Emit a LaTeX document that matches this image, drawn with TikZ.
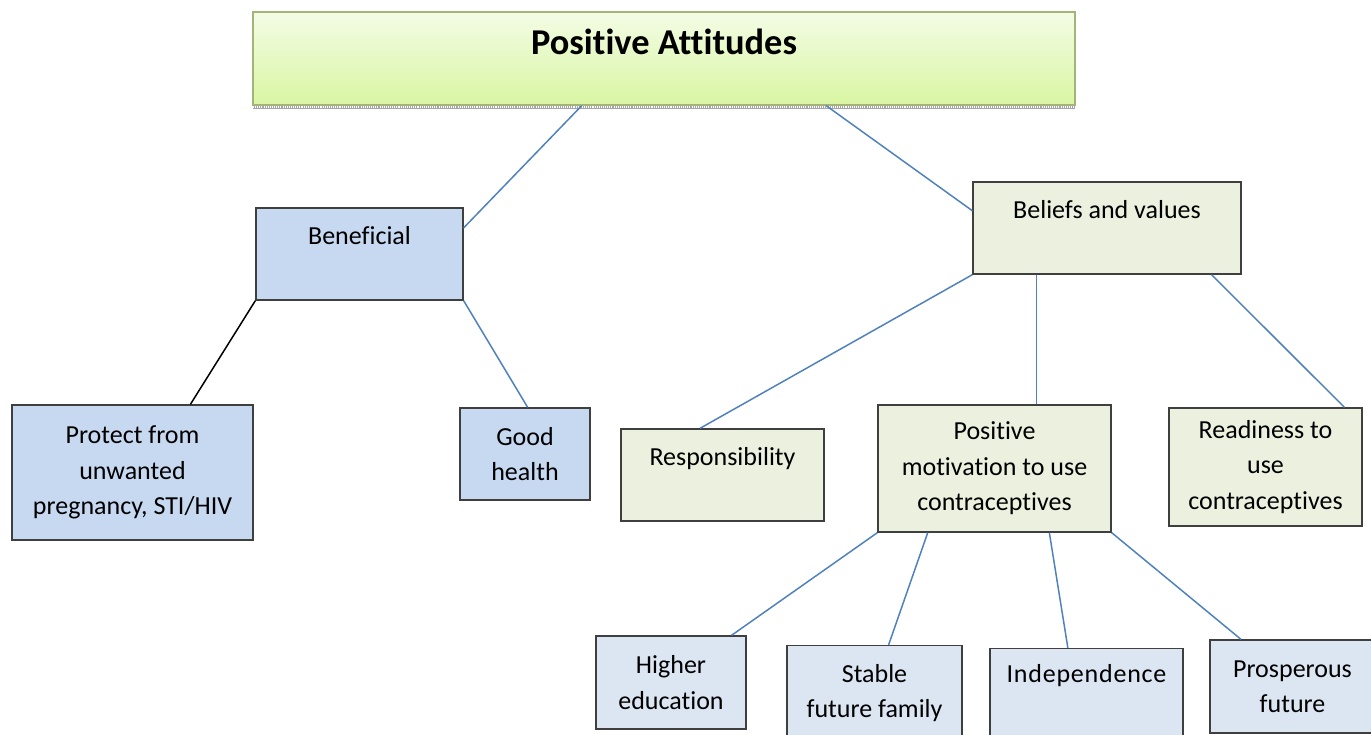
\documentclass[tikz,border=0pt]{standalone}
\usepackage{fontspec}
\setmainfont{Carlito}[Ligatures={NoCommon}]
\usepackage[HTML]{xcolor}
\usepackage{tikz}
\usetikzlibrary{positioning, calc}

\definecolor{linkblue}{HTML}{4F81BD}
\definecolor{boxline}{HTML}{3F3F3F}
\definecolor{benblue}{HTML}{C6D9F1}
\definecolor{paleblue}{HTML}{DCE6F2}
\definecolor{beige}{HTML}{EBF1DE}
\definecolor{limetop}{HTML}{F4FCE6}
\definecolor{limebot}{HTML}{D9F6A2}
\definecolor{limeline}{HTML}{A3B37A}

\newcommand{\boxfont}{\fontsize{14.8}{20.2}\selectfont}

\tikzset{
  box/.style={draw=boxline, line width=0.8pt, rectangle, align=center, inner sep=2pt,
    font=\boxfont},
  benbox/.style={box, fill=benblue},
  futbox/.style={box, fill=paleblue},
  valbox/.style={box, fill=beige},
  toptext/.style={label={[anchor=base, yshift=-0.74cm, inner sep=0pt, font=\boxfont]north:#1}},
  link/.style={draw=linkblue, line width=0.85pt}
}

\begin{document}
\begin{tikzpicture}[x=0.02cm, y=-0.02cm]
\useasboundingbox (0,0) rectangle (1371,734);

% Nodes
\fill[gray!70] (253,105) rectangle (1075,109);
\draw[white, line width=1.2pt, dash pattern=on 0.6pt off 0.6pt] (253,107) -- (1075,107);
\node[draw=limeline, line width=0.8pt, top color=limetop, bottom color=limebot,
  minimum width=16.44cm, minimum height=1.86cm, inner sep=0pt,
  label={[anchor=base, yshift=-0.86cm, inner sep=0pt,
    font=\fontsize{20.7}{24}\selectfont\bfseries]north:Positive Attitudes}] (top) at (664,58.5) {};

\node[benbox, minimum width=4.14cm, minimum height=1.84cm, toptext=Beneficial] (ben) at (359.5,254) {};
\node[valbox, minimum width=5.36cm, minimum height=1.84cm, toptext=Beliefs and values] (bel) at (1107,228) {};

\node[benbox, minimum width=4.82cm, minimum height=2.7cm] (prot) at (132.5,472.5) {Protect from\\unwanted\\pregnancy, STI/HIV};
\node[benbox, minimum width=2.6cm, minimum height=1.84cm] (good) at (525,454) {Good\\health};

\node[valbox, minimum width=4.06cm, minimum height=1.84cm, toptext=Responsibility] (resp) at (722.5,475) {};
\node[valbox, minimum width=4.66cm, minimum height=2.54cm] (mot) at (994.5,468.5) {Positive\\motivation to use\\contraceptives};
\node[valbox, minimum width=3.86cm, minimum height=2.36cm] (ready) at (1265.5,467) {Readiness to\\use\\contraceptives};

\node[futbox, minimum width=3cm, minimum height=1.86cm] (high) at (671,682.5) {Higher\\education};
\node[futbox, minimum width=3.5cm, minimum height=1.9cm] (stab) at (874.5,693) {Stable\\future family};
\node[futbox, minimum width=3.86cm, minimum height=1.9cm,
  label={[anchor=base, yshift=-0.7cm, inner sep=0pt, font=\boxfont\addfontfeature{LetterSpace=3}]north:Independence}] (ind) at (1086.5,696) {};
\node[futbox, minimum width=3.3cm, minimum height=1.86cm] (pros) at (1292.5,686.5) {Prosperous\\future};

% Links
\draw[link] ($(top.south west)!0.40!(top.south east)$) -- ($(ben.north east)!0.22!(ben.south east)$);
\draw[link] ($(top.south west)!0.697!(top.south east)$) -- ($(bel.north west)!0.315!(bel.south west)$);

\draw[line width=0.85pt] (ben.south west) -- ($(prot.north west)!0.739!(prot.north east)$);
\draw[link] (ben.south east) -- ($(good.north west)!0.52!(good.north east)$);

\draw[link] (bel.south west) -- ($(resp.north west)!0.39!(resp.north east)$);
\coordinate (belmid) at ($(bel.south west)!0.239!(bel.south east)$);
\draw[link] (belmid) -- (belmid |- mot.north);
\draw[link] ($(bel.south west)!0.888!(bel.south east)$) -- ($(ready.north west)!0.906!(ready.north east)$);

\draw[link] (mot.south west) -- ($(high.north west)!0.9!(high.north east)$);
\draw[link] ($(mot.south west)!0.215!(mot.south east)$) -- ($(stab.north west)!0.58!(stab.north east)$);
\draw[link] ($(mot.south west)!0.734!(mot.south east)$) -- ($(ind.north west)!0.404!(ind.north east)$);
\draw[link] (mot.south east) -- ($(pros.north west)!0.19!(pros.north east)$);

\end{tikzpicture}
\end{document}
